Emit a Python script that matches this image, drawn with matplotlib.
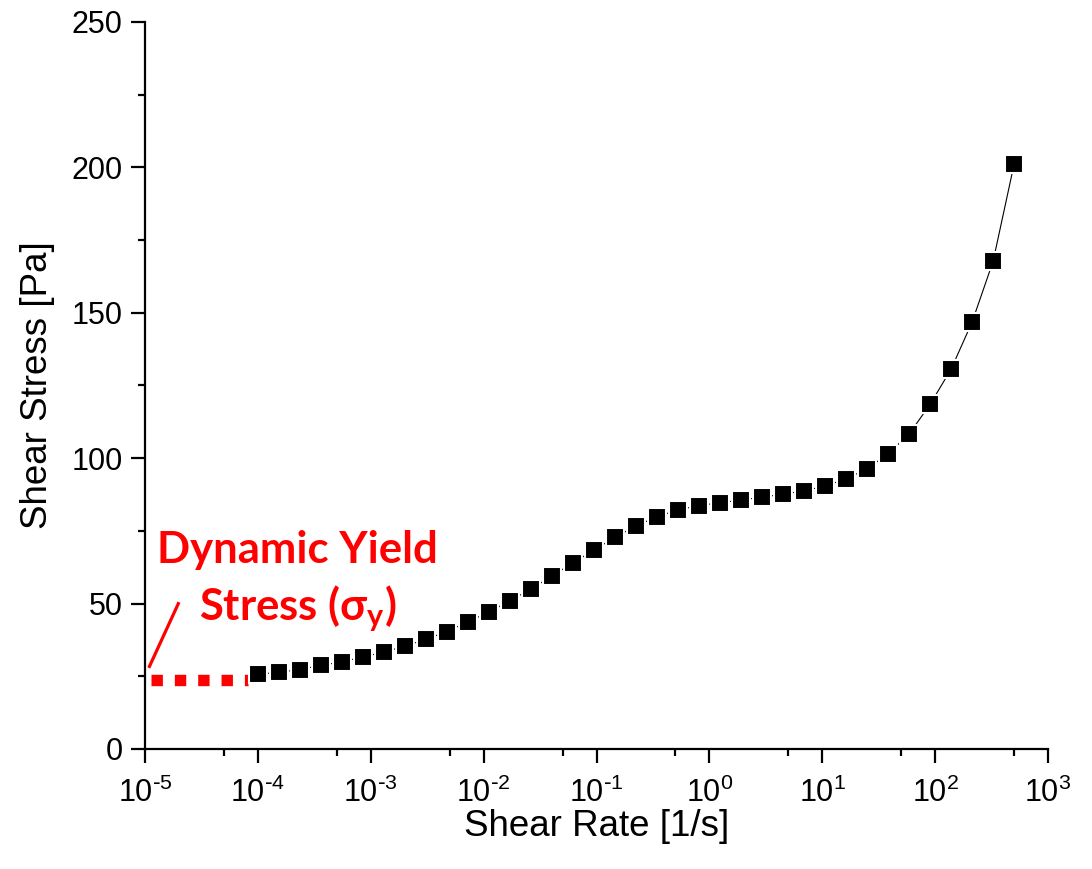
import matplotlib
matplotlib.use("Agg")
import matplotlib.pyplot as plt
from matplotlib.ticker import FuncFormatter, LogLocator, MultipleLocator, NullFormatter
import numpy as np

# flow curve: shear rate [1/s] vs shear stress [Pa]
shear_rate = [
    1.00e-4, 1.535e-4, 2.357e-4, 3.617e-4, 5.553e-4, 8.52e-4,
    1.308e-3, 2.008e-3, 3.083e-3, 4.73e-3, 7.26e-3,
    1.114e-2, 1.711e-2, 2.626e-2, 4.03e-2, 6.19e-2, 9.50e-2,
    0.1458, 0.2238, 0.3435, 0.527, 0.809,
    1.242, 1.907, 2.927, 4.49, 6.90,
    10.59, 16.25, 24.9, 38.3, 58.8, 90.2,
    138.5, 212.6, 326.3, 500.8,
]
shear_stress = [
    25.7, 26.4, 27.3, 28.8, 29.9, 31.7,
    33.3, 35.4, 37.7, 40.4, 43.7,
    47.1, 51.0, 55.0, 59.5, 64.0, 68.4,
    72.8, 76.7, 79.9, 82.2, 83.7,
    84.7, 85.6, 86.6, 87.6, 88.8,
    90.4, 92.9, 96.3, 101.5, 108.3, 118.5,
    130.6, 146.8, 167.7, 201.1,
]

# dynamic yield stress plateau extrapolated to low rates
yield_rate = [1.12e-5, 8.1e-5]
yield_stress = [23.7, 23.7]

plt.rcParams["font.family"] = ["Liberation Sans", "DejaVu Sans"]
plt.rcParams["mathtext.default"] = "regular"
plt.rcParams["axes.unicode_minus"] = False


def decade_label(value, _pos):
    # 10^n with a plain hyphen for negative exponents
    n = int(round(np.log10(value)))
    exp = r"\text{-}%d" % -n if n < 0 else "%d" % n
    return r"$10^{%s}$" % exp


fig = plt.figure(figsize=(10.92, 8.69), dpi=100)
ax = fig.add_axes([0.1328, 0.1381, 0.8269, 0.8366])

ax.plot(shear_rate, shear_stress, "-", color="black", lw=0.8, zorder=2)
ax.plot(shear_rate, shear_stress, "s", color="black", ms=12.5,
        mec="white", mew=1.5, zorder=3)

ax.plot(yield_rate, yield_stress, color="#ff0000", lw=8.2,
        linestyle=(0, (1.0, 1.05)), dash_capstyle="butt", zorder=2)

# pointer from the label down to the plateau
ax.plot([1.08e-5, 2.0e-5], [27.9, 50.5], color="#ff0000", lw=2.3,
        solid_capstyle="butt", zorder=2)

red_font = dict(family=["Lato", "DejaVu Sans"], weight="bold",
                color="#ff0000", size=31.4, ha="center", va="baseline")
ax.text(2.25e-4, 64.1, "Dynamic Yield", **red_font)
ax.text(2.25e-4, 44.4, r"Stress (σ$_{\mathregular{y}}$)", **red_font)

ax.set_xscale("log")
ax.set_xlim(1e-5, 1e3)
ax.set_ylim(0, 250)

ax.xaxis.set_major_locator(LogLocator(base=10, numticks=20))
ax.xaxis.set_major_formatter(FuncFormatter(decade_label))
ax.xaxis.set_minor_locator(LogLocator(base=10, subs=[5], numticks=20))
ax.xaxis.set_minor_formatter(NullFormatter())
ax.yaxis.set_major_locator(MultipleLocator(50))
ax.yaxis.set_minor_locator(MultipleLocator(25))

for side in ("top", "right"):
    ax.spines[side].set_visible(False)
for side in ("left", "bottom"):
    ax.spines[side].set_linewidth(1.6)

ax.tick_params(which="major", direction="out", length=10, width=1.6,
               labelsize=22)
ax.tick_params(axis="x", which="major", pad=11)
ax.tick_params(axis="y", which="major", pad=6)
ax.tick_params(which="minor", direction="out", length=5, width=1.6)

ax.set_xlabel("Shear Rate [1/s]", fontsize=26.5, labelpad=0)
ax.set_ylabel("Shear Stress [Pa]", fontsize=26.5, labelpad=12)

fig.savefig("out.png", dpi=100)
